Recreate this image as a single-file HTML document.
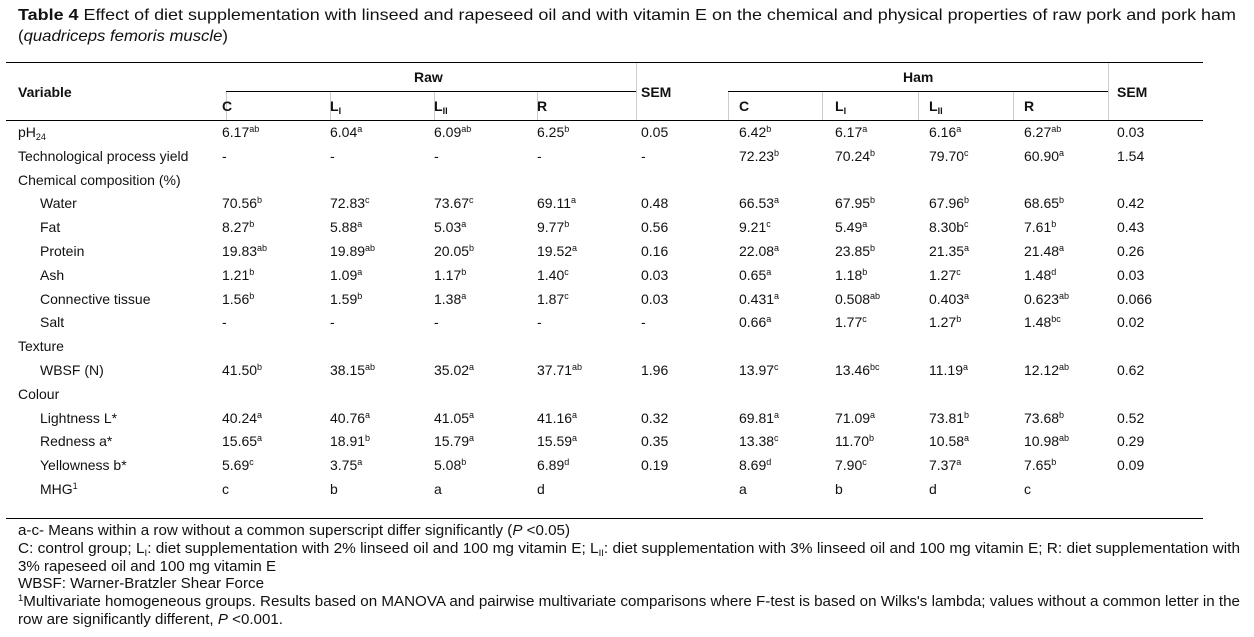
<!DOCTYPE html>
<html><head><meta charset="utf-8"><style>
body{margin:0;width:1254px;height:637px;background:#fff;font-family:"Liberation Sans",Arial,sans-serif;color:#111;position:relative;overflow:hidden}
.a{position:absolute;white-space:nowrap;font-size:14px;line-height:16px}
.b{font-weight:bold}
.ln{position:absolute;height:1px;background:#000}
.vl{position:absolute;width:1px;background:#ccc}
sup{font-size:9px;vertical-align:5px;line-height:0}
sub{font-size:9px;vertical-align:-3px;line-height:0}
.f{position:absolute;left:18px;font-size:14.5px;line-height:18px;white-space:nowrap;transform-origin:0 0}
.ti{position:absolute;left:18px;font-size:16px;line-height:20px;white-space:nowrap;transform-origin:0 0}
</style></head><body>
<div class="ti fit" data-w="1218" style="top:6px"><b>Table 4</b> Effect of diet supplementation with linseed and rapeseed oil and with vitamin E on the chemical and physical properties of raw pork and pork ham</div>
<div class="ti fit" data-w="210" style="top:27px">(<i>quadriceps femoris muscle</i>)</div>
<div class="ln" style="left:6px;width:1197px;top:62px"></div>
<div class="ln" style="left:226px;width:410px;top:91px"></div>
<div class="ln" style="left:728px;width:380px;top:91px"></div>
<div class="ln" style="left:6px;width:1197px;top:120px"></div>
<div class="ln" style="left:6px;width:1197px;top:518px"></div>
<div class="a b" style="left:18px;top:84px">Variable</div>
<div class="a b" style="left:414px;top:69px">Raw</div>
<div class="a b" style="left:903px;top:69px">Ham</div>
<div class="a b" style="left:641px;top:84px">SEM</div>
<div class="a b" style="left:1117px;top:84px">SEM</div>
<div id="t"></div>
<div class="f fit" data-w="552" style="top:522px">a-c- Means within a row without a common superscript differ significantly (<i>P</i> &lt;0.05)</div>
<div class="f fit" data-w="1222" style="top:540px">C: control group; L<sub>I</sub>: diet supplementation with 2% linseed oil and 100 mg vitamin E; L<sub>II</sub>: diet supplementation with 3% linseed oil and 100 mg vitamin E; R: diet supplementation with</div>
<div class="f fit" data-w="258" style="top:558px">3% rapeseed oil and 100 mg vitamin E</div>
<div class="f fit" data-w="246" style="top:575px">WBSF: Warner-Bratzler Shear Force</div>
<div class="f fit" data-w="1222" style="top:593px"><sup>1</sup>Multivariate homogeneous groups. Results based on MANOVA and pairwise multivariate comparisons where F-test is based on Wilks's lambda; values without a common letter in the</div>
<div class="f fit" data-w="265" style="top:611px">row are significantly different, <i>P</i> &lt;0.001.</div>
<script>
const colX=[222,330,434,537,641,739,835,929,1024,1117];
const divX=[226,330,434,537,636,728,822,918,1013,1108];
const hdr=['C','L<sub>I</sub>','L<sub>II</sub>','R','','C','L<sub>I</sub>','L<sub>II</sub>','R',''];
const rows=[
['pH<sub>24</sub>',0,['6.17^ab','6.04^a','6.09^ab','6.25^b','0.05','6.42^b','6.17^a','6.16^a','6.27^ab','0.03']],
['Technological process yield',0,['-','-','-','-','-','72.23^b','70.24^b','79.70^c','60.90^a','1.54']],
['Chemical composition (%)',0,[]],
['Water',1,['70.56^b','72.83^c','73.67^c','69.11^a','0.48','66.53^a','67.95^b','67.96^b','68.65^b','0.42']],
['Fat',1,['8.27^b','5.88^a','5.03^a','9.77^b','0.56','9.21^c','5.49^a','8.30b^c','7.61^b','0.43']],
['Protein',1,['19.83^ab','19.89^ab','20.05^b','19.52^a','0.16','22.08^a','23.85^b','21.35^a','21.48^a','0.26']],
['Ash',1,['1.21^b','1.09^a','1.17^b','1.40^c','0.03','0.65^a','1.18^b','1.27^c','1.48^d','0.03']],
['Connective tissue',1,['1.56^b','1.59^b','1.38^a','1.87^c','0.03','0.431^a','0.508^ab','0.403^a','0.623^ab','0.066']],
['Salt',1,['-','-','-','-','-','0.66^a','1.77^c','1.27^b','1.48^bc','0.02']],
['Texture',0,[]],
['WBSF (N)',1,['41.50^b','38.15^ab','35.02^a','37.71^ab','1.96','13.97^c','13.46^bc','11.19^a','12.12^ab','0.62']],
['Colour',0,[]],
['Lightness L*',1,['40.24^a','40.76^a','41.05^a','41.16^a','0.32','69.81^a','71.09^a','73.81^b','73.68^b','0.52']],
['Redness a*',1,['15.65^a','18.91^b','15.79^a','15.59^a','0.35','13.38^c','11.70^b','10.58^a','10.98^ab','0.29']],
['Yellowness b*',1,['5.69^c','3.75^a','5.08^b','6.89^d','0.19','8.69^d','7.90^c','7.37^a','7.65^b','0.09']],
['MHG<sup>1</sup>',1,['c','b','a','d','','a','b','d','c','']]
];
const t=document.getElementById('t');
function fmt(s){const p=s.split('^');return p.length>1?p[0]+'<sup>'+p[1]+'</sup>':s;}
divX.forEach((x,i)=>{const d=document.createElement('div');d.className='vl';


d.style.cssText=`left:${x}px;top:${i==4||i==9?63:92}px;height:${i==4||i==9?57:28}px`;t.appendChild(d);});
hdr.forEach((h,i)=>{if(!h)return;const d=document.createElement('div');d.className='a b';


d.style.left=colX[i]+'px';d.style.top='98px';d.innerHTML=h;t.appendChild(d);});
rows.forEach((r,ri)=>{const y=124+ri*23.8;
const l=document.createElement('div');l.className='a';


l.style.left=(r[1]?40:18)+'px';l.style.top=y+'px';l.innerHTML=r[0];t.appendChild(l);
r[2].forEach((v,ci)=>{if(!v)return;const c=document.createElement('div');c.className='a';


c.style.left=colX[ci]+'px';c.style.top=y+'px';c.innerHTML=fmt(v);t.appendChild(c);});});
document.querySelectorAll('.fit').forEach(e=>{const w=e.getBoundingClientRect().width;const tw=+e.getAttribute('data-w');e.style.transform='scaleX('+(tw/w)+')';});
</script>
</body></html>
